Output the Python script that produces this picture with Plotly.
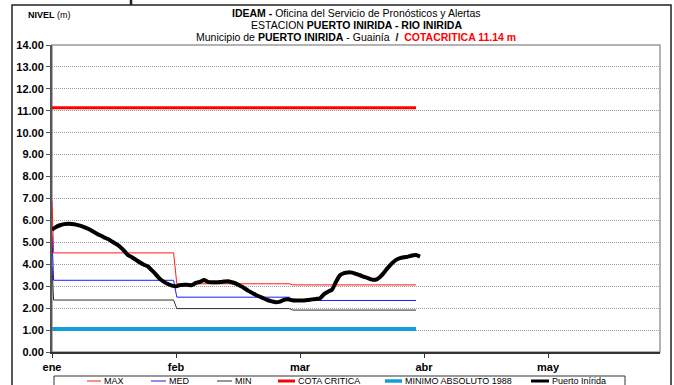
import plotly.graph_objects as go

# Days counted from 1 January; axis spans five 31-day blocks
dias_nivel = list(range(93))
nivel_puerto_inirida = [
    5.58, 5.70, 5.78, 5.83, 5.85, 5.84, 5.81, 5.76, 5.70, 5.62,
    5.52, 5.42, 5.32, 5.23, 5.15, 5.04, 4.93, 4.80, 4.62, 4.42,
    4.32, 4.20, 4.08, 3.98, 3.90, 3.72, 3.53, 3.33, 3.20, 3.10,
    3.03, 3.00, 3.05, 3.07, 3.06, 3.05, 3.15, 3.20, 3.28, 3.20,
    3.18, 3.18, 3.19, 3.21, 3.23, 3.18, 3.12, 3.02, 2.92, 2.80,
    2.70, 2.60, 2.52, 2.44, 2.36, 2.31, 2.27, 2.30, 2.38, 2.40,
    2.36, 2.35, 2.35, 2.35, 2.37, 2.40, 2.42, 2.45, 2.64, 2.75,
    2.84, 3.20, 3.50, 3.60, 3.63, 3.62, 3.56, 3.50, 3.43, 3.37,
    3.30, 3.30, 3.42, 3.62, 3.85, 4.05, 4.20, 4.28, 4.32, 4.35,
    4.40, 4.42, 4.35,
]

# Monthly reference levels (dic, ene, feb, mar) drawn as steps
dias_cambio = [0, 0.4, 30.4, 31.2, 59.4, 60.2, 91]
nivel_max = [6.90, 4.52, 4.52, 3.11, 3.11, 3.06, 3.06]
nivel_med = [5.30, 3.27, 3.27, 2.50, 2.50, 2.35, 2.35]
nivel_min = [3.90, 2.37, 2.37, 1.98, 1.98, 1.91, 1.91]

dias_referencia = [0, 91]
cota_critica = [11.14, 11.14]
minimo_absoluto = [1.05, 1.05]

meses_ticks = [0, 31, 62, 93, 124]
meses_texto = ["ene", "feb", "mar", "abr", "may"]
niveles_ticks = list(range(15))

FONT = "Liberation Sans Narrow, Arial Narrow, Liberation Sans, Arial, sans-serif"
W, H = 674, 385
ML, MR, MT, MB = 52, 14, 45, 33
PW, PH = W - ML - MR, H - MT - MB


def px(x):
    return (x - ML) / PW


def py(y):
    return (H - MB - y) / PH


fig = go.Figure()
fig.add_trace(go.Scatter(x=dias_referencia, y=minimo_absoluto, mode="lines",
                         line=dict(color="#139fd6", width=4), name="MINIMO ABSOLUTO 1988"))
fig.add_trace(go.Scatter(x=dias_referencia, y=cota_critica, mode="lines",
                         line=dict(color="#ff0000", width=3), name="COTA CRITICA"))
fig.add_trace(go.Scatter(x=dias_cambio, y=nivel_min, mode="lines",
                         line=dict(color="#303030", width=1), name="MIN"))
fig.add_trace(go.Scatter(x=dias_cambio, y=nivel_med, mode="lines",
                         line=dict(color="#1a1aff", width=1), name="MED"))
fig.add_trace(go.Scatter(x=dias_cambio, y=nivel_max, mode="lines",
                         line=dict(color="#ff1a1a", width=1), name="MAX"))
fig.add_trace(go.Scatter(x=dias_nivel, y=nivel_puerto_inirida, mode="lines",
                         line=dict(color="#000000", width=4, shape="spline", smoothing=0.5),
                         name="Puerto Inírida"))

shapes = [
    # plot frame (top/right in light grey)
    dict(type="rect", xref="paper", yref="paper", x0=0, x1=1, y0=0, y1=1,
         line=dict(color="#9a9a9a", width=1.5), layer="below"),
    # outer page frame
    dict(type="rect", xref="paper", yref="paper", x0=px(12), x1=px(671), y0=py(400), y1=py(5),
         line=dict(color="#222222", width=1.5)),
    dict(type="line", xref="paper", yref="paper", x0=px(131), x1=px(131), y0=py(5), y1=py(-2),
         line=dict(color="#222222", width=2.5)),
    # legend box
    dict(type="rect", xref="paper", yref="paper", x0=px(54), x1=px(625), y0=py(395), y1=py(376),
         line=dict(color="#333333", width=1)),
]

title_font = dict(family=FONT, size=10.5, color="#000")
annotations = [
    dict(text="<b>IDEAM -</b> Oficina del Servicio de Pronósticos y Alertas",
         x=0.5, y=py(13), xref="paper", yref="paper", yanchor="middle", showarrow=False,
         font=title_font),
    dict(text="ESTACION <b>PUERTO INIRIDA - RIO INIRIDA</b>",
         x=0.5, y=py(25), xref="paper", yref="paper", yanchor="middle", showarrow=False,
         font=title_font),
    dict(text="Municipio de <b>PUERTO INIRIDA</b> - Guainía  <b>/</b>  "
              "<span style='color:#ff0000'><b>COTACRITICA 11.14 m</b></span>",
         x=0.5, y=py(37), xref="paper", yref="paper", yanchor="middle", showarrow=False,
         font=title_font),
    dict(text="<b>NIVEL</b> (m)", x=px(26), y=py(15), xref="paper", yref="paper",
         xanchor="left", yanchor="middle", showarrow=False,
         font=dict(family="Liberation Sans, Arial", size=9, color="#000")),
]

# legend entries: (label, colour, line width, sample start, sample end)
legend_items = [
    ("MAX", "#ff1a1a", 1, 87, 101),
    ("MED", "#1a1aff", 1, 151, 166),
    ("MIN", "#303030", 1, 217, 232),
    ("COTA CRITICA", "#ff0000", 3, 278, 295),
    ("MINIMO ABSOLUTO 1988", "#139fd6", 3.5, 385, 402),
    ("Puerto Inírida", "#000000", 3, 531, 549),
]
ly = 381
for label, color, width, x0, x1 in legend_items:
    shapes.append(dict(type="line", xref="paper", yref="paper", x0=px(x0), x1=px(x1),
                       y0=py(ly), y1=py(ly), line=dict(color=color, width=width)))
    annotations.append(dict(text=label, x=px(x1 + 0.5), y=py(ly), xref="paper", yref="paper",
                            xanchor="left", yanchor="middle", showarrow=False,
                            font=dict(family="Liberation Sans, Arial", size=9, color="#000")))

fig.update_layout(
    width=W, height=H,
    margin=dict(l=ML, r=MR, t=MT, b=MB, pad=0),
    paper_bgcolor="white", plot_bgcolor="white",
    showlegend=False,
    shapes=shapes, annotations=annotations,
    xaxis=dict(range=[0, 152], tickmode="array", tickvals=meses_ticks, ticktext=meses_texto,
               showgrid=False, zeroline=False, showline=True, linecolor="#333333", linewidth=1.5,
               ticks="outside", ticklen=4, tickcolor="#333333",
               tickfont=dict(family="Liberation Sans, Arial", size=11, color="#000", weight="bold")),
    yaxis=dict(range=[0, 14], tickmode="array", tickvals=niveles_ticks,
               ticktext=[f"{v:.2f}" for v in niveles_ticks],
               showgrid=True, gridcolor="#9c9c9c", griddash="1px,1px", gridwidth=1,
               zeroline=False, showline=True, linecolor="#555555", linewidth=2,
               ticks="outside", ticklen=4, tickcolor="#555555",
               tickfont=dict(family="Liberation Sans, Arial", size=11, color="#000", weight="bold")),
)

fig.write_html("out.html")
